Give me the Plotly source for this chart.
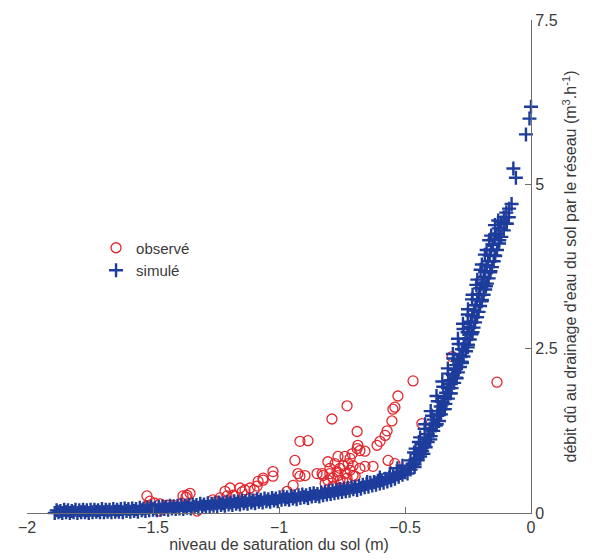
import plotly.graph_objects as go

# ---------------- data ----------------
# observed ("observé") drainage discharge vs. saturation level
obs_x = [-1.524, -1.512, -1.492, -1.472, -1.520, -1.508, -1.476, -1.444, -1.421, -1.417,
         -1.385, -1.381, -1.365, -1.353, -1.369, -1.357, -1.294, -1.325, -1.286,
         -1.262, -1.246, -1.234, -1.234, -1.214, -1.206, -1.194, -1.183, -1.175, -1.155,
         -1.147, -1.135, -1.115, -1.099, -1.087, -1.083, -1.063, -1.063, -1.024, -1.024,
         -0.968, -0.944, -0.937, -0.917, -0.885, -0.925, -0.917, -0.897, -0.849, -0.829,
         -0.790, -0.730, -0.690, -0.687, -0.690, -0.679, -0.659, -0.766, -0.806, -0.798,
         -0.770, -0.746, -0.718, -0.706, -0.659, -0.627, -0.786, -0.825, -0.817, -0.758,
         -0.730, -0.706, -0.778, -0.758, -0.738, -0.718, -0.766, -0.746, -0.798, -0.726,
         -0.710, -0.738, -0.698, -0.679, -0.786, -0.758, -0.806,
         -0.611, -0.599, -0.579, -0.571, -0.552, -0.548, -0.540, -0.528, -0.468, -0.567,
         -0.540, -0.433, -0.313, -0.135]
obs_y = [0.26, 0.18, 0.15, 0.14, 0.11, 0.09, 0.03, 0.12, 0.12, 0.09,
         0.15, 0.26, 0.27, 0.30, 0.24, -0.12, -0.11, 0.03, -0.03,
         0.20, 0.18, 0.15, 0.23, 0.33, 0.26, 0.38, 0.27, 0.26, 0.38,
         0.32, 0.35, 0.38, 0.35, 0.41, 0.48, 0.53, 0.50, 0.63, 0.56,
         0.33, 0.42, 0.80, 1.09, 1.10, 0.60, 0.56, 0.57, 0.60, 0.60,
         1.43, 1.63, 1.24, 1.03, 0.98, 0.95, 0.94, 0.86, 0.78, 0.68,
         0.63, 0.72, 0.83, 0.72, 0.71, 0.71, 0.53, 0.57, 0.45, 0.50,
         0.53, 0.57, 0.75, 0.68, 0.60, 0.65, 0.57, 0.48, 0.60, 0.75,
         0.90, 0.86, 0.56, 0.68, 0.41, 0.38, 0.50,
         1.03, 1.09, 1.18, 1.25, 1.40, 1.58, 1.61, 1.78, 2.01, 0.80,
         0.75, 1.36, 2.38, 1.99]

# simulated ("simulé") discharge: slowly rising part, lower row of the band
sim_low_x = [-1.890, -1.875, -1.860, -1.845, -1.830, -1.815, -1.800, -1.785, -1.770, -1.755,
             -1.740, -1.725, -1.710, -1.695, -1.680, -1.665, -1.650, -1.635, -1.620, -1.605,
             -1.590, -1.575, -1.560, -1.545, -1.530, -1.515, -1.500, -1.485, -1.470, -1.455,
             -1.440, -1.425, -1.410, -1.395, -1.380, -1.365, -1.350, -1.335, -1.320, -1.305,
             -1.290, -1.275, -1.260, -1.245, -1.230, -1.215, -1.200, -1.185, -1.170, -1.155,
             -1.140, -1.125, -1.110, -1.095, -1.080, -1.065, -1.050, -1.035, -1.020, -1.005,
             -0.990, -0.975, -0.960, -0.945, -0.930, -0.915, -0.900, -0.885, -0.870, -0.855,
             -0.840, -0.825, -0.810, -0.795, -0.780, -0.765, -0.750, -0.735, -0.720, -0.705,
             -0.690, -0.675, -0.660, -0.645, -0.630, -0.615, -0.600, -0.585, -0.570, -0.555,
             -0.540, -0.525, -0.510]
sim_low_y = [0.00, 0.01, 0.00, 0.01, 0.00, 0.01, 0.00, 0.01, 0.01, 0.00,
             0.01, 0.02, 0.01, 0.01, 0.02, 0.01, 0.02, 0.02, 0.01, 0.03,
             0.02, 0.03, 0.02, 0.04, 0.03, 0.04, 0.05, 0.04, 0.05, 0.06,
             0.05, 0.07, 0.06, 0.07, 0.06, 0.08, 0.07, 0.09, 0.08, 0.10,
             0.09, 0.10, 0.11, 0.10, 0.12, 0.11, 0.13, 0.12, 0.14, 0.13,
             0.15, 0.14, 0.16, 0.15, 0.17, 0.16, 0.18, 0.17, 0.19, 0.18,
             0.20, 0.21, 0.20, 0.22, 0.21, 0.23, 0.24, 0.23, 0.25, 0.26,
             0.25, 0.27, 0.28, 0.29, 0.30, 0.31, 0.32, 0.33, 0.34, 0.36,
             0.35, 0.37, 0.39, 0.40, 0.42, 0.43, 0.45, 0.46, 0.48, 0.50,
             0.52, 0.55, 0.58]

# slowly rising part, upper row of the band
sim_up_x = [-1.8825, -1.8675, -1.8525, -1.8375, -1.8225, -1.8075, -1.7925, -1.7775, -1.7625, -1.7475,
            -1.7325, -1.7175, -1.7025, -1.6875, -1.6725, -1.6575, -1.6425, -1.6275, -1.6125, -1.5975,
            -1.5825, -1.5675, -1.5525, -1.5375, -1.5225, -1.5075, -1.4925, -1.4775, -1.4625, -1.4475,
            -1.4325, -1.4175, -1.4025, -1.3875, -1.3725, -1.3575, -1.3425, -1.3275, -1.3125, -1.2975,
            -1.2825, -1.2675, -1.2525, -1.2375, -1.2225, -1.2075, -1.1925, -1.1775, -1.1625, -1.1475,
            -1.1325, -1.1175, -1.1025, -1.0875, -1.0725, -1.0575, -1.0425, -1.0275, -1.0125, -0.9975,
            -0.9825, -0.9675, -0.9525, -0.9375, -0.9225, -0.9075, -0.8925, -0.8775, -0.8625, -0.8475,
            -0.8325, -0.8175, -0.8025, -0.7875, -0.7725, -0.7575, -0.7425, -0.7275, -0.7125, -0.6975,
            -0.6825, -0.6675, -0.6525, -0.6375, -0.6225, -0.6075, -0.5925, -0.5775, -0.5625, -0.5475,
            -0.5325, -0.5175]
sim_up_y = [0.04, 0.03, 0.05, 0.04, 0.03, 0.05, 0.04, 0.05, 0.04, 0.05,
            0.05, 0.04, 0.06, 0.05, 0.05, 0.06, 0.05, 0.06, 0.07, 0.06,
            0.07, 0.06, 0.08, 0.07, 0.08, 0.09, 0.08, 0.09, 0.10, 0.09,
            0.11, 0.10, 0.11, 0.12, 0.11, 0.12, 0.13, 0.12, 0.14, 0.13,
            0.15, 0.14, 0.15, 0.16, 0.15, 0.17, 0.16, 0.18, 0.17, 0.19,
            0.18, 0.20, 0.19, 0.21, 0.20, 0.22, 0.21, 0.23, 0.22, 0.24,
            0.25, 0.24, 0.26, 0.25, 0.27, 0.28, 0.27, 0.29, 0.30, 0.29,
            0.31, 0.32, 0.33, 0.34, 0.35, 0.36, 0.37, 0.38, 0.39, 0.40,
            0.41, 0.43, 0.44, 0.46, 0.47, 0.49, 0.50, 0.52, 0.54, 0.56,
            0.59, 0.63]

# steep part above the knee (centre of the band, its edges, filling points, outliers)
sim_high_x = [-0.500, -0.485, -0.470, -0.458, -0.447, -0.436, -0.428, -0.420, -0.410, -0.402,
              -0.394, -0.385, -0.373, -0.366, -0.358, -0.351, -0.345, -0.337, -0.330, -0.324,
              -0.318, -0.310, -0.303, -0.297, -0.290, -0.283, -0.274, -0.267, -0.260, -0.252,
              -0.245, -0.239, -0.233, -0.226, -0.220, -0.214, -0.207, -0.201, -0.195, -0.188,
              -0.182, -0.176, -0.170, -0.164, -0.158, -0.151, -0.145, -0.138, -0.128, -0.118,
              -0.108, -0.098, -0.087, -0.077,
              -0.464, -0.445, -0.422, -0.393, -0.370, -0.348, -0.329, -0.308, -0.287, -0.268,
              -0.251, -0.234, -0.217, -0.200, -0.183, -0.166, -0.143,
              -0.462, -0.427, -0.400, -0.374, -0.342, -0.318, -0.295, -0.274, -0.251, -0.232,
              -0.214, -0.196, -0.179, -0.161, -0.144, -0.126, -0.096,
              -0.490, -0.478, -0.462, -0.450, -0.440, -0.432, -0.418, -0.410, -0.398, -0.388,
              -0.378, -0.365, -0.357, -0.348, -0.340, -0.330, -0.322, -0.315, -0.305, -0.298,
              -0.290, -0.282, -0.275, -0.268, -0.258, -0.250, -0.243, -0.236, -0.228, -0.222,
              -0.215, -0.208, -0.202, -0.195, -0.188, -0.182, -0.175, -0.168, -0.162, -0.155,
              -0.148, -0.142, -0.135, -0.127, -0.118, -0.108, -0.098, -0.088,
              -0.478, -0.458, -0.440, -0.420, -0.398, -0.375, -0.352, -0.330, -0.310, -0.290,
              -0.270, -0.250, -0.232, -0.213, -0.195, -0.176, -0.158, -0.130,
              -0.650, -0.600, -0.560, -0.530, -0.510,
              -0.070, -0.060, -0.020, -0.006, 0.000]
sim_high_y = [0.62, 0.68, 0.75, 0.82, 0.90, 0.98, 1.05, 1.12, 1.20, 1.28,
              1.35, 1.42, 1.48, 1.55, 1.62, 1.69, 1.75, 1.83, 1.90, 1.96,
              2.02, 2.10, 2.18, 2.25, 2.32, 2.40, 2.49, 2.57, 2.65, 2.75,
              2.83, 2.91, 3.00, 3.08, 3.16, 3.25, 3.33, 3.42, 3.50, 3.59,
              3.67, 3.75, 3.83, 3.92, 4.00, 4.08, 4.17, 4.25, 4.33, 4.42,
              4.50, 4.57, 4.63, 4.70,
              0.92, 1.08, 1.28, 1.48, 1.70, 1.92, 2.12, 2.35, 2.57, 2.80,
              3.02, 3.25, 3.47, 3.70, 3.93, 4.15, 4.38,
              0.70, 0.90, 1.12, 1.35, 1.58, 1.82, 2.05, 2.28, 2.52, 2.75,
              2.98, 3.22, 3.45, 3.68, 3.92, 4.15, 4.40,
              0.60, 0.66, 0.74, 0.80, 0.86, 0.94, 1.00, 1.08, 1.17, 1.25,
              1.33, 1.40, 1.50, 1.58, 1.66, 1.74, 1.82, 1.90, 1.98, 2.06,
              2.14, 2.22, 2.30, 2.38, 2.46, 2.56, 2.64, 2.72, 2.82, 2.90,
              2.98, 3.06, 3.15, 3.24, 3.32, 3.40, 3.49, 3.57, 3.66, 3.74,
              3.83, 3.91, 4.00, 4.10, 4.20, 4.30, 4.40, 4.50,
              0.80, 0.98, 1.15, 1.35, 1.55, 1.78, 2.00, 2.20, 2.42, 2.65,
              2.88, 3.10, 3.32, 3.55, 3.78, 4.00, 4.22, 4.45,
              0.47, 0.54, 0.60, 0.68, 0.72,
              5.24, 5.10, 5.76, 6.00, 6.18]

sim_x = sim_low_x + sim_up_x + sim_high_x
sim_y = sim_low_y + sim_up_y + sim_high_y

x_ticks = [-2, -1.5, -1, -0.5, 0]
y_ticks = [0, 2.5, 5, 7.5]

# ---------------- figure ----------------
RED = "#e3262e"
BLUE = "#1d3c9c"
AXIS = "#6e6e6e"
TXT = "#3a3a3a"
FONT = "Liberation Sans, Arial, sans-serif"

fig = go.Figure()
fig.add_trace(go.Scatter(
    x=obs_x, y=obs_y, mode="markers", name="observé", cliponaxis=False,
    marker=dict(symbol="circle-open", size=10, color=RED, line=dict(width=1.3, color=RED)),
))
fig.add_trace(go.Scatter(
    x=sim_x, y=sim_y, mode="markers", name="simulé", cliponaxis=False,
    marker=dict(symbol="cross-thin", size=10, color=BLUE, line=dict(width=2.4, color=BLUE)),
))

fig.update_layout(
    width=595, height=559,
    margin=dict(l=27, r=64, t=18, b=44),
    paper_bgcolor="white", plot_bgcolor="white",
    font=dict(family=FONT, size=16, color=TXT),
    showlegend=True,
    legend=dict(x=0.137, y=0.571, xanchor="left", yanchor="top",
                bgcolor="rgba(0,0,0,0)", font=dict(size=15, color=TXT),
                tracegroupgap=0),
    xaxis=dict(
        range=[-2, 0], tickvals=x_ticks, ticks="inside", ticklen=6, tickcolor=AXIS,
        showline=True, linecolor=AXIS, linewidth=1.2, showgrid=False, zeroline=False,
        tickfont=dict(size=16, color=TXT),
        title=dict(text="niveau de saturation du sol (m)", standoff=0,
                   font=dict(size=16, color=TXT)),
    ),
    yaxis=dict(
        range=[0, 7.5], tickvals=y_ticks, side="right", ticks="inside", ticklen=6,
        tickcolor=AXIS, showline=True, linecolor=AXIS, linewidth=1.2,
        showgrid=False, zeroline=False, tickfont=dict(size=16, color=TXT),
        title=dict(text="débit dû au drainage d'eau du sol par le réseau (m<sup>3</sup>.h<sup>-1</sup>)",
                   standoff=8, font=dict(size=16, color=TXT)),
    ),
)

fig.write_html("out.html")
